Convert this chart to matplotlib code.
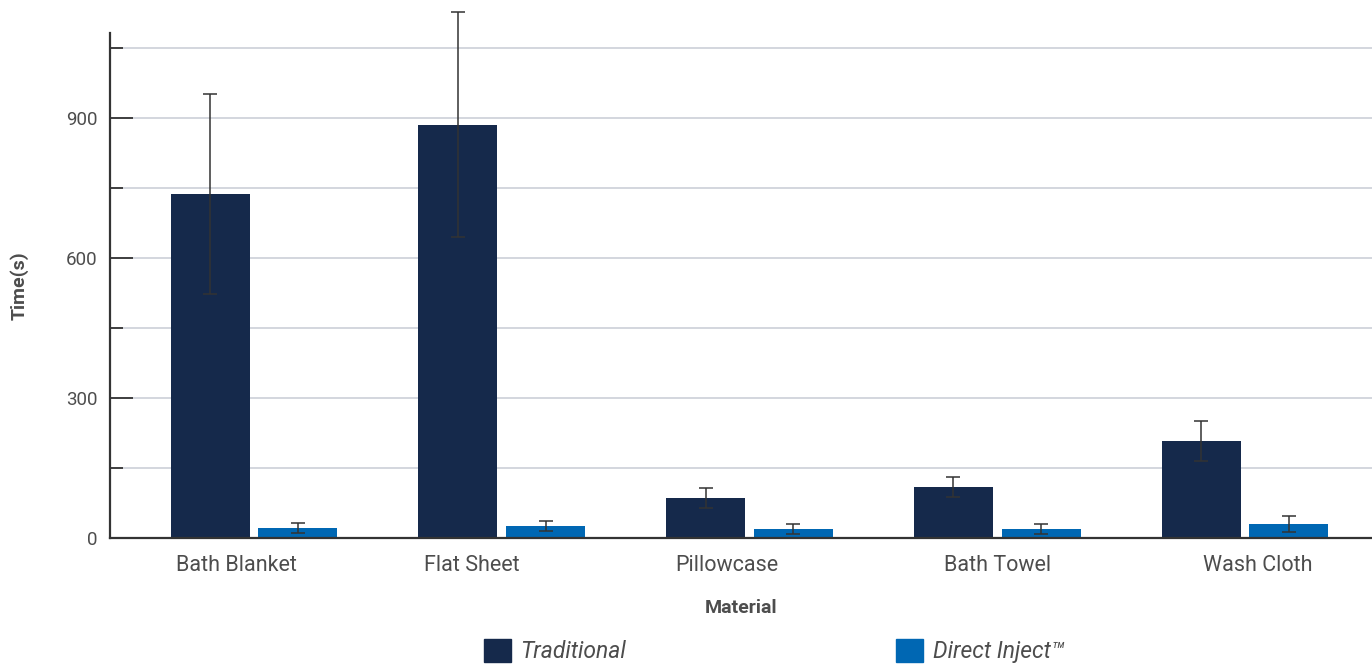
import numpy as np
import matplotlib
matplotlib.use("Agg")
import matplotlib.pyplot as plt
from matplotlib.patches import Patch

# 数据
materials = ["Bath Blanket", "Flat Sheet", "Pillowcase", "Bath Towel", "Wash Cloth"]
traditional = [737, 885, 86, 109, 208]
traditional_err = [214, 241, 21, 21, 43]
direct = [21, 25, 19, 19, 30]
direct_err = [11, 11, 10, 10, 17]
series_names = ["Traditional", "Direct Inject\u2122"]

# 类别标签的水平偏移(原图标签并不完全居中)
label_shift = [-0.07, -0.12, -0.09, 0.0, 0.05]

c_trad = "#15294b"
c_dir = "#0067b3"
text_gray = "#4d4d4d"

plt.rcParams['font.family'] = ['Roboto', 'DejaVu Sans']

fig = plt.figure(figsize=(13.72, 6.65), dpi=100)
ax = fig.add_axes([110 / 1372, 127 / 665, 1 - 110 / 1372, (538 - 33) / 665])

x = np.arange(len(materials))
w = 0.319
off = 0.177

ax.bar(x - off, traditional, w, color=c_trad, zorder=2)
ax.bar(x + off, direct, w, color=c_dir, zorder=2)

for xs, vals, errs in [(x - off, traditional, traditional_err), (x + off, direct, direct_err)]:
    eb = ax.errorbar(xs, vals, yerr=errs, fmt='none', ecolor="#333333",
                     elinewidth=1.1, capsize=5, capthick=1.1, zorder=3)
    for art in eb.lines[1] + eb.lines[2]:
        art.set_clip_on(False)

ax.set_xlim(-0.581, 4.513)
ax.set_ylim(0, 1082)

# 网格
ax.set_yticks([0, 300, 600, 900])
ax.set_yticks([150, 450, 750, 1050], minor=True)
ax.yaxis.grid(True, which='both', color="#d3d6de", linewidth=1.4, zorder=0)
ax.set_axisbelow(True)

ax.tick_params(axis='y', which='major', direction='in', length=16.5, width=1.3,
               color="#333333", labelsize=13.5, labelcolor=text_gray, pad=9)
ax.tick_params(axis='y', which='minor', direction='in', length=9.5, width=1.3,
               color="#333333")

ax.set_xticks(x + np.array(label_shift))
ax.set_xticklabels(materials)
ax.tick_params(axis='x', length=0, labelsize=15.5, labelcolor=text_gray, pad=12)

for s in ['top', 'right']:
    ax.spines[s].set_visible(False)
for s in ['left', 'bottom']:
    ax.spines[s].set_color("#333333")
    ax.spines[s].set_linewidth(1.6)

ax.set_ylabel("Time(s)", fontsize=14, fontweight='bold', color=text_gray, labelpad=27)
ax.set_xlabel("Material", fontsize=14, fontweight='bold', color=text_gray, labelpad=17)

handles = [Patch(color=c_trad), Patch(color=c_dir)]
fig.legend(handles, series_names, loc='lower left', bbox_to_anchor=(484 / 1372, 2 / 665),
           ncol=2, frameon=False, borderpad=0, borderaxespad=0,
           handlelength=1.18, handleheight=1.18, handletextpad=0.4, columnspacing=11.8,
           prop={'style': 'italic', 'size': 16.5}, labelcolor=text_gray)

fig.savefig("out.png", dpi=100)
